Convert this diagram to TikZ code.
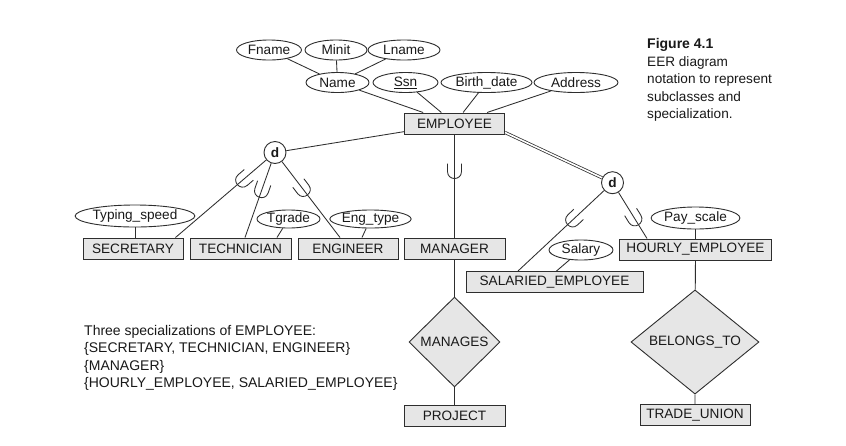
\documentclass[tikz,border=0pt]{standalone}
\usepackage{fontspec}
\setmainfont{Liberation Sans}
\usetikzlibrary{shapes.geometric,decorations.markings}
\definecolor{edge}{HTML}{2E2E2E}
\definecolor{boxfill}{HTML}{E6E6E6}
\begin{document}
\begin{tikzpicture}[x=1pt,y=-1pt,
  every node/.style={font=\fontsize{13.6}{16}\selectfont, text=black!90},
  ent/.style={draw=edge, fill=boxfill, line width=1pt, minimum height=21pt, inner sep=0pt},
  attr/.style={draw=edge, fill=white, ellipse, line width=0.9pt, inner sep=0pt, minimum height=20pt},
  rel/.style={draw=edge, fill=boxfill, diamond, line width=0.9pt, inner sep=0pt},
  dcirc/.style={draw=edge, fill=white, circle, line width=0.9pt, minimum size=22pt, inner sep=0pt, font=\fontsize{13.6}{16}\selectfont\bfseries},
  conn/.style={draw=edge, line width=0.85pt},
  subU/.style={postaction={decorate}, decoration={markings, mark=at position #1 with {\draw[edge, line width=0.85pt] (-8,7) -- (0,7) .. controls (9.33,7) and (9.33,-7) .. (0,-7) -- (-8,-7);}}},
  txt/.style={anchor=base west, inner sep=0pt}
]
\fill[white] (0,0) rectangle (846,445);
\useasboundingbox (0,0) rectangle (846,445);

% attributes of EMPLOYEE
\node[attr, minimum width=65pt] (fname) at (269,50) {Fname};
\node[attr, minimum width=62pt] (minit) at (336,50) {Minit};
\node[attr, minimum width=72pt] (lname) at (404,50) {Lname};
\node[attr, minimum width=63pt] (name) at (337.5,82.5) {Name};
\node[attr, minimum width=65pt] (ssn) at (405.5,82.5) {\underline{Ssn}};
\node[attr, minimum width=91pt] (bdate) at (486.5,82.5) {Birth\_date};
\node[attr, minimum width=84pt] (addr) at (576,82.5) {Address};

% entities
\node[ent, minimum width=100pt] (emp) at (454.5,123.5) {EMPLOYEE};
\node[ent, minimum width=100pt] (sec) at (133,248.5) {SECRETARY};
\node[ent, minimum width=101pt] (tech) at (240.5,248.5) {TECHNICIAN};
\node[ent, minimum width=100pt] (eng) at (348,248.5) {ENGINEER};
\node[ent, minimum width=101pt] (mgr) at (454.5,248.5) {MANAGER};
\node[ent, minimum width=152pt] (hourly) at (695.5,249.5) {HOURLY\_EMPLOYEE};
\node[ent, minimum width=177pt] (salaried) at (554.5,282) {SALARIED\_EMPLOYEE};
\node[ent, minimum width=101pt] (proj) at (454.5,415.5) {PROJECT};
\node[ent, minimum width=110pt] (trade) at (695,415) {TRADE\_UNION};

% relationships
\node[rel, minimum width=91pt, minimum height=90pt] (manages) at (454.5,342) {MANAGES};
\node[rel, minimum width=128pt, minimum height=90pt] (belongs) at (695,342) {BELONGS\_TO};

% specialization circles
\node[dcirc] (d1) at (275,152.5) {d};
\node[dcirc] (d2) at (612.5,182.7) {d};

% local attributes
\node[attr, minimum width=105pt, minimum height=22pt] (typ) at (135,216) {Typing\_speed};
\node[attr, minimum width=63pt, minimum height=18pt] (tgr) at (288.5,219) {Tgrade};
\node[attr, minimum width=75pt, minimum height=18pt] (engt) at (370.5,219) {Eng\_type};
\node[attr, minimum width=64pt] (sal) at (581,250) {Salary};
\node[attr, minimum width=84pt, minimum height=22pt] (pay) at (695.5,218) {Pay\_scale};

% connectors
\draw[conn] (fname) -- (name);
\draw[conn] (minit) -- (name);
\draw[conn] (lname) -- (name);
\draw[conn] (name) -- (emp);
\draw[conn] (ssn) -- (emp);
\draw[conn] (bdate) -- (emp);
\draw[conn] (addr) -- (emp);

\draw[conn] (d1) -- (emp);
\draw[conn, subU=31pt] (d1) -- ([xshift=-8pt]sec.north east);
\draw[conn, subU=29pt] (d1) -- ([xshift=4.5pt]tech.north);
\draw[conn, subU=35pt] (d1) -- ([xshift=-8pt]eng.north);
\draw[conn, subU=37pt] (emp) -- (mgr);
\draw[draw=edge, line width=0.75pt, double=white, double distance=1.6pt] ([yshift=2pt]emp.south east) -- (d2);
\draw[conn, subU=43pt] (d2) -- ([xshift=-36.5pt]salaried.north);
\draw[conn, subU=31pt] (d2) -- ([xshift=-48.5pt]hourly.north);

\draw[conn] (mgr) -- (manages) -- (proj);
\draw[conn] (hourly) -- (belongs) -- (trade);

\draw[conn] (typ.south) -- (typ.south |- sec.north);
\draw[conn] (tgr) -- ([xshift=36.5pt]tech.north);
\draw[conn] (engt) -- ([xshift=14pt]eng.north);
\draw[conn] (sal) -- ([xshift=2pt]salaried.north);
\draw[conn] (pay) -- (hourly);

% caption
\node[txt, font=\fontsize{14}{16}\selectfont\bfseries] (cap1) at (647,48.5) {Figure 4.1};
\node[txt] (cap2) at (647,66) {EER diagram};
\node[txt] (cap3) at (647,83.5) {notation to represent};
\node[txt] (cap4) at (647,101) {subclasses and};
\node[txt] (cap5) at (647,118.5) {specialization.};

% annotation
\node[txt, font=\fontsize{14}{16}\selectfont] (ann1) at (84,335) {Three specializations of EMPLOYEE:};
\node[txt, font=\fontsize{14}{16}\selectfont] (ann2) at (84,352.5) {\{SECRETARY, TECHNICIAN, ENGINEER\}};
\node[txt, font=\fontsize{14}{16}\selectfont] (ann3) at (84,370) {\{MANAGER\}};
\node[txt, font=\fontsize{14}{16}\selectfont] (ann4) at (84,387.5) {\{HOURLY\_EMPLOYEE, SALARIED\_EMPLOYEE\}};
\end{tikzpicture}
\end{document}
